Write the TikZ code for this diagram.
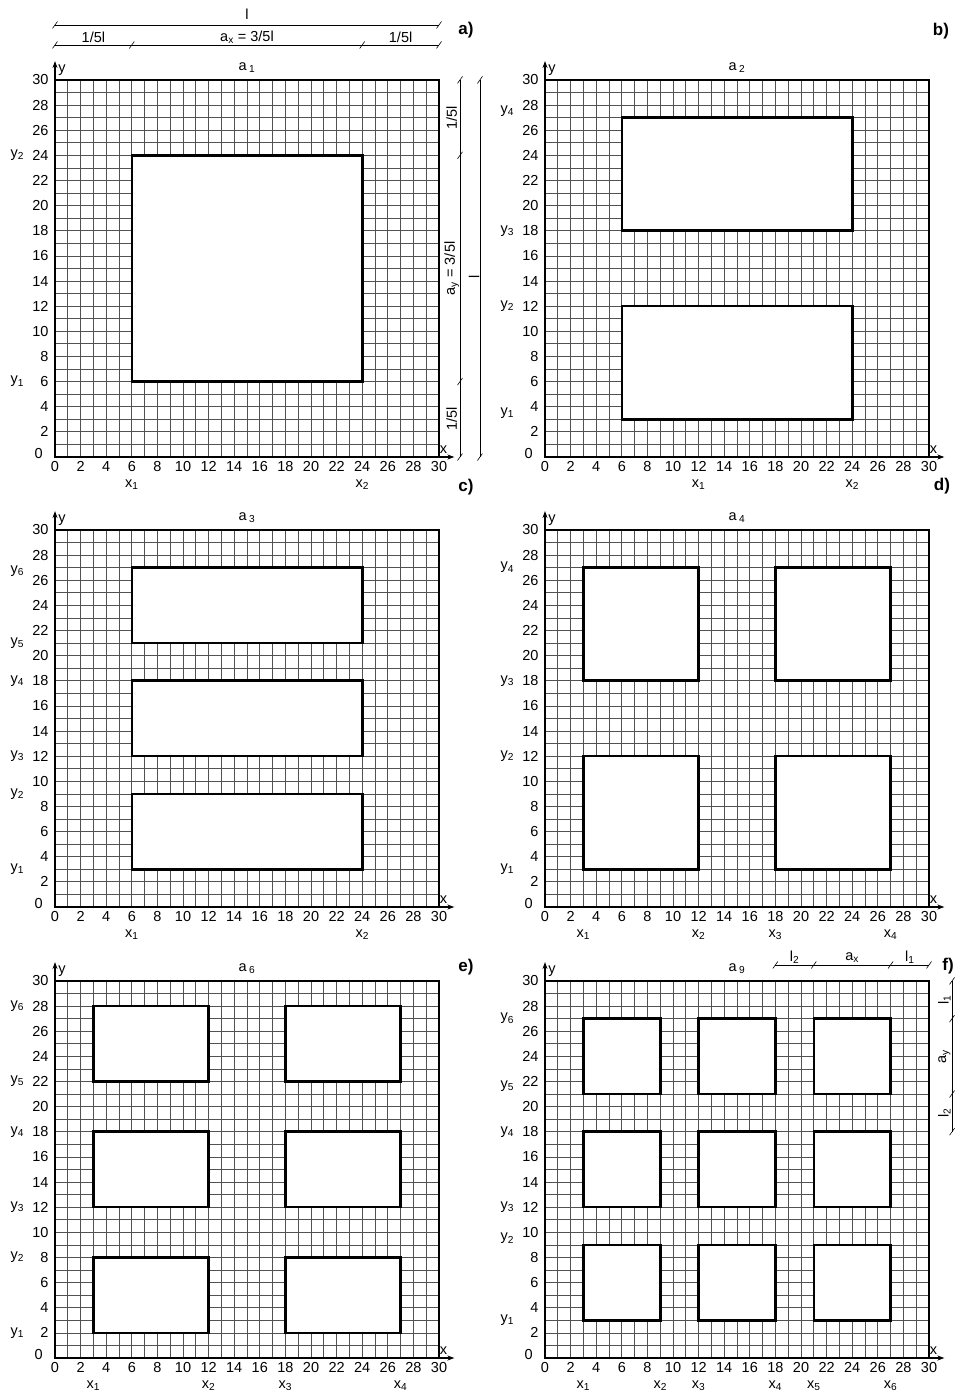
\documentclass[tikz,border=0pt]{standalone}
\usepackage{fontspec}
\setmainfont{Liberation Sans}
\usetikzlibrary{arrows.meta}
\tikzset{
  panelat/.style 2 args={shift={(#1pt,-#2pt)},x=12.8pt,y=12.57pt},
  gridline/.style={line width=0.75pt,black!68},
  frame/.style={line width=2.2pt},
  opening/.style={line width=2.6pt,fill=white,draw=black},
  axisarrow/.style={line width=1.2pt,-{Stealth[length=7pt,width=5pt]}},
  num/.style={font=\fontsize{14.5}{14.5}\selectfont,inner sep=0pt},
  sublab/.style={font=\fontsize{14.5}{14.5}\selectfont,inner sep=0pt},
  plabel/.style={font=\fontsize{17}{17}\selectfont\bfseries,inner sep=0pt},
  dimline/.style={line width=0.6pt},
}
\newcommand{\gridpanel}[3]{%
 \begin{scope}[panelat={#1}{#2}]
   \draw[gridline,step=1] (0,0) grid (30,30);
   \draw[axisarrow] (0,0) -- (31.2,0);
   \draw[axisarrow] (0,0) -- (0,31.5);
   \draw[frame] (0,0) rectangle (30,30);
   \node[num,anchor=west] at (0.25,30.75) {y};
   \node[num] at (30.35,0.55) {x};
   \foreach \i in {0,2,...,30} {\node[num,anchor=base] at (\i,-1.12) {\i};}
   \foreach \i in {2,4,...,30} {\node[num,anchor=east] at (-0.5,\i) {\i};}
   \node[num,anchor=east] at (-0.95,0.3) {0};
   \node[num] at (15,31.0) {a\,\textsubscript{#3}};
 \end{scope}}
\newcommand{\xl}[2]{\node[sublab] at (#1,-2.2) {x\textsubscript{#2}};}
\newcommand{\yl}[2]{\node[sublab] at (-2.95,#1) {y\textsubscript{#2}};}
\newcommand{\dtick}[1]{\draw[dimline] (#1) ++(-2.5pt,-3.5pt) -- ++(5pt,7pt);}
\begin{document}
\begin{tikzpicture}[x=1pt,y=-1pt]
\useasboundingbox (0,0) rectangle (960,1394);
\fill[white] (0,0) rectangle (960,1394);

% panel letters
\node[plabel] (la) at (466,30) {a)};
\node[plabel] (lb) at (941,31) {b)};
\node[plabel] (lc) at (466,487) {c)};
\node[plabel] (ld) at (942,486) {d)};
\node[plabel] (le) at (466,967) {e)};
\node[plabel] (lf) at (948,966) {f)};

% ---------- a ----------
\gridpanel{55}{457}{1}
\begin{scope}[panelat={55}{457}]
  \draw[opening] (6,6) rectangle (24,24);
  \xl{6}{1}\xl{24}{2}
  \yl{6}{1}\yl{24}{2}
  % top dimension lines
  \draw[dimline] (0,34.37) -- (30,34.37);
  \dtick{0,34.37}\dtick{30,34.37}
  \node[num] at (15,35.25) {l};
  \draw[dimline] (0,32.78) -- (30,32.78);
  \dtick{0,32.78}\dtick{6,32.78}\dtick{24,32.78}\dtick{30,32.78}
  \node[num] at (3,33.4) {1/5l};
  \node[num] at (15,33.4) {a\textsubscript{x} = 3/5l};
  \node[num] at (27,33.4) {1/5l};
  % right dimension lines
  \draw[dimline] (31.64,0) -- (31.64,30);
  \dtick{31.64,0}\dtick{31.64,6}\dtick{31.64,24}\dtick{31.64,30}
  \node[num,rotate=90] at (31.0,27) {1/5l};
  \node[num,rotate=90] at (31.0,15) {a\textsubscript{y} = 3/5l};
  \node[num,rotate=90] at (31.0,3) {1/5l};
  \draw[dimline] (33.2,0) -- (33.2,30);
  \dtick{33.2,0}\dtick{33.2,30}
  \node[num,rotate=90] at (32.75,14.3) {l};
\end{scope}

% ---------- b ----------
\gridpanel{545}{457}{2}
\begin{scope}[panelat={545}{457}]
  \draw[opening] (6,3) rectangle (24,12);
  \draw[opening] (6,18) rectangle (24,27);
  \xl{12}{1}\xl{24}{2}
  \yl{3.5}{1}\yl{12}{2}\yl{18}{3}\yl{27.5}{4}
\end{scope}

% ---------- c ----------
\gridpanel{55}{907}{3}
\begin{scope}[panelat={55}{907}]
  \draw[opening] (6,3) rectangle (24,9);
  \draw[opening] (6,12) rectangle (24,18);
  \draw[opening] (6,21) rectangle (24,27);
  \xl{6}{1}\xl{24}{2}
  \yl{3}{1}\yl{9}{2}\yl{12}{3}\yl{18}{4}\yl{21}{5}\yl{26.7}{6}
\end{scope}

% ---------- d ----------
\gridpanel{545}{907}{4}
\begin{scope}[panelat={545}{907}]
  \draw[opening] (3,3) rectangle (12,12);
  \draw[opening] (18,3) rectangle (27,12);
  \draw[opening] (3,18) rectangle (12,27);
  \draw[opening] (18,18) rectangle (27,27);
  \xl{3}{1}\xl{12}{2}\xl{18}{3}\xl{27}{4}
  \yl{3}{1}\yl{12}{2}\yl{18}{3}\yl{27}{4}
\end{scope}

% ---------- e ----------
\gridpanel{55}{1358}{6}
\begin{scope}[panelat={55}{1358}]
  \draw[opening] (3,2) rectangle (12,8);
  \draw[opening] (18,2) rectangle (27,8);
  \draw[opening] (3,12) rectangle (12,18);
  \draw[opening] (18,12) rectangle (27,18);
  \draw[opening] (3,22) rectangle (12,28);
  \draw[opening] (18,22) rectangle (27,28);
  \xl{3}{1}\xl{12}{2}\xl{18}{3}\xl{27}{4}
  \yl{2}{1}\yl{8}{2}\yl{12}{3}\yl{18}{4}\yl{22}{5}\yl{28}{6}
\end{scope}

% ---------- f ----------
\gridpanel{545}{1358}{9}
\begin{scope}[panelat={545}{1358}]
  \foreach \a/\b in {3/9,12/18,21/27} {
    \foreach \c/\d in {3/9,12/18,21/27} {
      \draw[opening] (\a,\c) rectangle (\b,\d);
    }
  }
  \xl{3}{1}\xl{9}{2}\xl{12}{3}\xl{18}{4}\xl{21}{5}\xl{27}{6}
  \yl{3}{1}\yl{9.5}{2}\yl{12}{3}\yl{18}{4}\yl{21.6}{5}\yl{27}{6}
  % dimension lines
  \draw[dimline] (18,31.27) -- (30,31.27);
  \dtick{18,31.27}\dtick{21,31.27}\dtick{27,31.27}\dtick{30,31.27}
  \node[num] at (19.5,31.9) {l\textsubscript{2}};
  \node[num] at (24,31.85) {a\textsubscript{x}};
  \node[num] at (28.5,31.9) {l\textsubscript{1}};
  \draw[dimline] (31.8,18) -- (31.8,30);
  \dtick{31.8,18}\dtick{31.8,21}\dtick{31.8,27}\dtick{31.8,30}
  \node[num,rotate=90] at (31.2,28.5) {l\textsubscript{1}};
  \node[num,rotate=90] at (31.2,24) {a\textsubscript{y}};
  \node[num,rotate=90] at (31.2,19.5) {l\textsubscript{2}};
\end{scope}
\end{tikzpicture}
\end{document}
